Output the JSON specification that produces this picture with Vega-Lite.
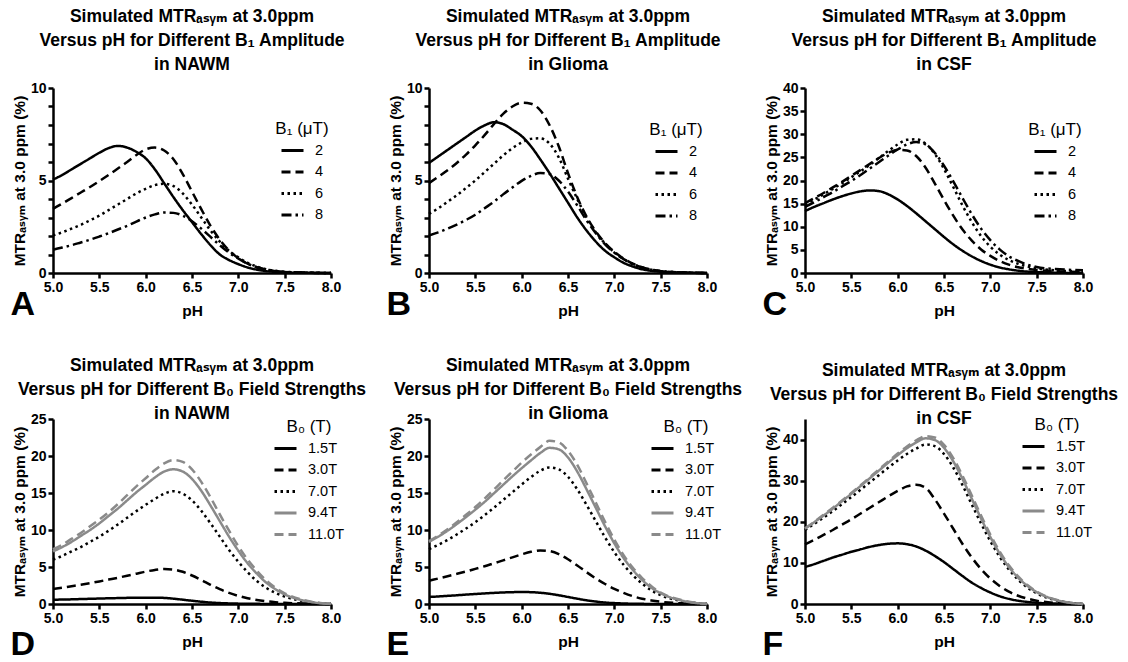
{
"$schema": "https://vega.github.io/schema/vega-lite/v6.json",
"background": "white",
"padding": {"left": 10, "top": 7, "right": 5, "bottom": 2},
"config": {
 "font": "Liberation Sans, DejaVu Sans, sans-serif",
 "view": {"stroke": null},
 "line": {"color": "black"},
 "point": {"color": "black"},
 "axis": {"domainColor": "black", "domainWidth": 2.5, "tickColor": "black", "tickWidth": 2.5, "tickSize": 5, "labelFontSize": 14, "labelFontWeight": "bold", "labelColor": "black", "labelPadding": 2, "labelFlush": false, "titleFontSize": 15.5, "titleFontWeight": "bold", "titleColor": "black", "grid": false},
 "axisY": {"titlePadding": 3},
 "axisX": {"titlePadding": 9},
 "legend": {"orient": "none", "titleFontSize": 17, "titleFontWeight": "normal", "titleColor": "black", "labelFontSize": 14.5, "labelColor": "black", "symbolType": "stroke", "symbolSize": 484, "symbolStrokeWidth": 3, "labelOffset": 10, "rowPadding": 2.5, "titlePadding": 0, "titleAnchor": "middle", "titleLimit": 300, "padding": 0},
 "title": {"fontSize": 17.5, "fontWeight": "bold", "color": "black", "anchor": "middle", "lineHeight": 24, "offset": 8}
},
"datasets": {
"A": [
{"B":"2","pH":5,"v":5.05},{"B":"2","pH":5.1,"v":5.3},{"B":"2","pH":5.2,"v":5.6},{"B":"2","pH":5.3,"v":5.9},{"B":"2","pH":5.4,"v":6.2},{"B":"2","pH":5.5,"v":6.5},{"B":"2","pH":5.6,"v":6.75},{"B":"2","pH":5.7,"v":6.87},{"B":"2","pH":5.8,"v":6.78},{"B":"2","pH":5.9,"v":6.55},{"B":"2","pH":6,"v":6.2},{"B":"2","pH":6.1,"v":5.6},{"B":"2","pH":6.2,"v":4.85},{"B":"2","pH":6.3,"v":4.1},{"B":"2","pH":6.4,"v":3.4},{"B":"2","pH":6.5,"v":2.75},{"B":"2","pH":6.6,"v":2.1},{"B":"2","pH":6.7,"v":1.5},{"B":"2","pH":6.8,"v":1.0},{"B":"2","pH":6.9,"v":0.7},{"B":"2","pH":7,"v":0.48},{"B":"2","pH":7.1,"v":0.3},{"B":"2","pH":7.2,"v":0.18},{"B":"2","pH":7.3,"v":0.1},{"B":"2","pH":7.4,"v":0.06},{"B":"2","pH":7.5,"v":0.03},{"B":"2","pH":7.75,"v":0.01},{"B":"2","pH":8,"v":0},
{"B":"4","pH":5,"v":3.47},{"B":"4","pH":5.1,"v":3.75},{"B":"4","pH":5.2,"v":4.05},{"B":"4","pH":5.3,"v":4.35},{"B":"4","pH":5.4,"v":4.65},{"B":"4","pH":5.5,"v":4.97},{"B":"4","pH":5.6,"v":5.3},{"B":"4","pH":5.7,"v":5.65},{"B":"4","pH":5.8,"v":6.0},{"B":"4","pH":5.9,"v":6.38},{"B":"4","pH":6,"v":6.68},{"B":"4","pH":6.1,"v":6.78},{"B":"4","pH":6.2,"v":6.62},{"B":"4","pH":6.3,"v":6.15},{"B":"4","pH":6.4,"v":5.35},{"B":"4","pH":6.5,"v":4.4},{"B":"4","pH":6.6,"v":3.45},{"B":"4","pH":6.7,"v":2.55},{"B":"4","pH":6.8,"v":1.8},{"B":"4","pH":6.9,"v":1.22},{"B":"4","pH":7,"v":0.8},{"B":"4","pH":7.1,"v":0.5},{"B":"4","pH":7.2,"v":0.3},{"B":"4","pH":7.3,"v":0.18},{"B":"4","pH":7.4,"v":0.1},{"B":"4","pH":7.5,"v":0.05},{"B":"4","pH":7.75,"v":0.01},{"B":"4","pH":8,"v":0},
{"B":"6","pH":5,"v":2.03},{"B":"6","pH":5.1,"v":2.2},{"B":"6","pH":5.2,"v":2.4},{"B":"6","pH":5.3,"v":2.6},{"B":"6","pH":5.4,"v":2.85},{"B":"6","pH":5.5,"v":3.1},{"B":"6","pH":5.6,"v":3.4},{"B":"6","pH":5.7,"v":3.7},{"B":"6","pH":5.8,"v":4.0},{"B":"6","pH":5.9,"v":4.3},{"B":"6","pH":6,"v":4.55},{"B":"6","pH":6.1,"v":4.75},{"B":"6","pH":6.2,"v":4.82},{"B":"6","pH":6.3,"v":4.7},{"B":"6","pH":6.4,"v":4.3},{"B":"6","pH":6.5,"v":3.7},{"B":"6","pH":6.6,"v":3.0},{"B":"6","pH":6.7,"v":2.3},{"B":"6","pH":6.8,"v":1.7},{"B":"6","pH":6.9,"v":1.2},{"B":"6","pH":7,"v":0.85},{"B":"6","pH":7.1,"v":0.55},{"B":"6","pH":7.2,"v":0.35},{"B":"6","pH":7.3,"v":0.2},{"B":"6","pH":7.4,"v":0.12},{"B":"6","pH":7.5,"v":0.06},{"B":"6","pH":7.75,"v":0.02},{"B":"6","pH":8,"v":0},
{"B":"8","pH":5,"v":1.26},{"B":"8","pH":5.1,"v":1.38},{"B":"8","pH":5.2,"v":1.5},{"B":"8","pH":5.3,"v":1.65},{"B":"8","pH":5.4,"v":1.8},{"B":"8","pH":5.5,"v":1.97},{"B":"8","pH":5.6,"v":2.15},{"B":"8","pH":5.7,"v":2.35},{"B":"8","pH":5.8,"v":2.55},{"B":"8","pH":5.9,"v":2.78},{"B":"8","pH":6,"v":3.0},{"B":"8","pH":6.1,"v":3.17},{"B":"8","pH":6.2,"v":3.27},{"B":"8","pH":6.3,"v":3.25},{"B":"8","pH":6.4,"v":3.1},{"B":"8","pH":6.5,"v":2.8},{"B":"8","pH":6.6,"v":2.4},{"B":"8","pH":6.7,"v":1.95},{"B":"8","pH":6.8,"v":1.5},{"B":"8","pH":6.9,"v":1.1},{"B":"8","pH":7,"v":0.78},{"B":"8","pH":7.1,"v":0.5},{"B":"8","pH":7.2,"v":0.32},{"B":"8","pH":7.3,"v":0.19},{"B":"8","pH":7.4,"v":0.11},{"B":"8","pH":7.5,"v":0.06},{"B":"8","pH":7.75,"v":0.02},{"B":"8","pH":8,"v":0}
],
"B": [
{"B":"2","pH":5,"v":5.95},{"B":"2","pH":5.1,"v":6.3},{"B":"2","pH":5.2,"v":6.65},{"B":"2","pH":5.3,"v":7.0},{"B":"2","pH":5.4,"v":7.35},{"B":"2","pH":5.5,"v":7.7},{"B":"2","pH":5.6,"v":7.98},{"B":"2","pH":5.7,"v":8.15},{"B":"2","pH":5.8,"v":8.05},{"B":"2","pH":5.9,"v":7.75},{"B":"2","pH":6,"v":7.4},{"B":"2","pH":6.1,"v":6.85},{"B":"2","pH":6.2,"v":6.15},{"B":"2","pH":6.3,"v":5.4},{"B":"2","pH":6.4,"v":4.6},{"B":"2","pH":6.5,"v":3.8},{"B":"2","pH":6.6,"v":3.0},{"B":"2","pH":6.7,"v":2.3},{"B":"2","pH":6.8,"v":1.7},{"B":"2","pH":6.9,"v":1.2},{"B":"2","pH":7,"v":0.85},{"B":"2","pH":7.1,"v":0.55},{"B":"2","pH":7.2,"v":0.35},{"B":"2","pH":7.3,"v":0.2},{"B":"2","pH":7.4,"v":0.12},{"B":"2","pH":7.5,"v":0.07},{"B":"2","pH":7.75,"v":0.02},{"B":"2","pH":8,"v":0},
{"B":"4","pH":5,"v":4.86},{"B":"4","pH":5.1,"v":5.2},{"B":"4","pH":5.2,"v":5.55},{"B":"4","pH":5.3,"v":5.95},{"B":"4","pH":5.4,"v":6.4},{"B":"4","pH":5.5,"v":6.9},{"B":"4","pH":5.6,"v":7.45},{"B":"4","pH":5.7,"v":8.05},{"B":"4","pH":5.8,"v":8.6},{"B":"4","pH":5.9,"v":9.0},{"B":"4","pH":6,"v":9.2},{"B":"4","pH":6.1,"v":9.15},{"B":"4","pH":6.2,"v":8.8},{"B":"4","pH":6.3,"v":8.0},{"B":"4","pH":6.4,"v":6.85},{"B":"4","pH":6.5,"v":5.4},{"B":"4","pH":6.6,"v":4.1},{"B":"4","pH":6.7,"v":3.05},{"B":"4","pH":6.8,"v":2.25},{"B":"4","pH":6.9,"v":1.62},{"B":"4","pH":7,"v":1.15},{"B":"4","pH":7.1,"v":0.78},{"B":"4","pH":7.2,"v":0.5},{"B":"4","pH":7.3,"v":0.3},{"B":"4","pH":7.4,"v":0.18},{"B":"4","pH":7.5,"v":0.1},{"B":"4","pH":7.75,"v":0.03},{"B":"4","pH":8,"v":0},
{"B":"6","pH":5,"v":3.2},{"B":"6","pH":5.1,"v":3.5},{"B":"6","pH":5.2,"v":3.85},{"B":"6","pH":5.3,"v":4.2},{"B":"6","pH":5.4,"v":4.6},{"B":"6","pH":5.5,"v":5.0},{"B":"6","pH":5.6,"v":5.45},{"B":"6","pH":5.7,"v":5.9},{"B":"6","pH":5.8,"v":6.35},{"B":"6","pH":5.9,"v":6.75},{"B":"6","pH":6,"v":7.05},{"B":"6","pH":6.1,"v":7.25},{"B":"6","pH":6.2,"v":7.28},{"B":"6","pH":6.3,"v":7.0},{"B":"6","pH":6.4,"v":6.25},{"B":"6","pH":6.5,"v":5.1},{"B":"6","pH":6.6,"v":4.0},{"B":"6","pH":6.7,"v":3.0},{"B":"6","pH":6.8,"v":2.2},{"B":"6","pH":6.9,"v":1.6},{"B":"6","pH":7,"v":1.12},{"B":"6","pH":7.1,"v":0.76},{"B":"6","pH":7.2,"v":0.48},{"B":"6","pH":7.3,"v":0.3},{"B":"6","pH":7.4,"v":0.18},{"B":"6","pH":7.5,"v":0.1},{"B":"6","pH":7.75,"v":0.03},{"B":"6","pH":8,"v":0},
{"B":"8","pH":5,"v":2.03},{"B":"8","pH":5.1,"v":2.2},{"B":"8","pH":5.2,"v":2.4},{"B":"8","pH":5.3,"v":2.62},{"B":"8","pH":5.4,"v":2.87},{"B":"8","pH":5.5,"v":3.15},{"B":"8","pH":5.6,"v":3.5},{"B":"8","pH":5.7,"v":3.85},{"B":"8","pH":5.8,"v":4.25},{"B":"8","pH":5.9,"v":4.62},{"B":"8","pH":6,"v":4.98},{"B":"8","pH":6.1,"v":5.25},{"B":"8","pH":6.2,"v":5.4},{"B":"8","pH":6.3,"v":5.35},{"B":"8","pH":6.4,"v":5.0},{"B":"8","pH":6.5,"v":4.4},{"B":"8","pH":6.6,"v":3.65},{"B":"8","pH":6.7,"v":2.85},{"B":"8","pH":6.8,"v":2.15},{"B":"8","pH":6.9,"v":1.55},{"B":"8","pH":7,"v":1.1},{"B":"8","pH":7.1,"v":0.75},{"B":"8","pH":7.2,"v":0.48},{"B":"8","pH":7.3,"v":0.3},{"B":"8","pH":7.4,"v":0.18},{"B":"8","pH":7.5,"v":0.1},{"B":"8","pH":7.75,"v":0.03},{"B":"8","pH":8,"v":0}
],
"C": [
{"B":"2","pH":5,"v":13.4},{"B":"2","pH":5.1,"v":14.3},{"B":"2","pH":5.2,"v":15.1},{"B":"2","pH":5.3,"v":15.9},{"B":"2","pH":5.4,"v":16.6},{"B":"2","pH":5.5,"v":17.2},{"B":"2","pH":5.6,"v":17.65},{"B":"2","pH":5.7,"v":17.85},{"B":"2","pH":5.8,"v":17.7},{"B":"2","pH":5.9,"v":17.0},{"B":"2","pH":6,"v":15.9},{"B":"2","pH":6.1,"v":14.5},{"B":"2","pH":6.2,"v":12.9},{"B":"2","pH":6.3,"v":11.2},{"B":"2","pH":6.4,"v":9.5},{"B":"2","pH":6.5,"v":7.8},{"B":"2","pH":6.6,"v":6.2},{"B":"2","pH":6.7,"v":4.8},{"B":"2","pH":6.8,"v":3.6},{"B":"2","pH":6.9,"v":2.6},{"B":"2","pH":7,"v":1.8},{"B":"2","pH":7.1,"v":1.2},{"B":"2","pH":7.2,"v":0.8},{"B":"2","pH":7.3,"v":0.5},{"B":"2","pH":7.4,"v":0.3},{"B":"2","pH":7.5,"v":0.2},{"B":"2","pH":7.75,"v":0.05},{"B":"2","pH":8,"v":0},
{"B":"4","pH":5,"v":15.1},{"B":"4","pH":5.1,"v":16.2},{"B":"4","pH":5.2,"v":17.3},{"B":"4","pH":5.3,"v":18.5},{"B":"4","pH":5.4,"v":19.7},{"B":"4","pH":5.5,"v":21.0},{"B":"4","pH":5.6,"v":22.3},{"B":"4","pH":5.7,"v":23.6},{"B":"4","pH":5.8,"v":24.9},{"B":"4","pH":5.9,"v":26.0},{"B":"4","pH":6,"v":26.65},{"B":"4","pH":6.1,"v":26.5},{"B":"4","pH":6.2,"v":25.3},{"B":"4","pH":6.3,"v":22.8},{"B":"4","pH":6.4,"v":19.4},{"B":"4","pH":6.5,"v":15.8},{"B":"4","pH":6.6,"v":12.4},{"B":"4","pH":6.7,"v":9.4},{"B":"4","pH":6.8,"v":7.0},{"B":"4","pH":6.9,"v":5.1},{"B":"4","pH":7,"v":3.7},{"B":"4","pH":7.1,"v":2.6},{"B":"4","pH":7.2,"v":1.8},{"B":"4","pH":7.3,"v":1.25},{"B":"4","pH":7.4,"v":0.9},{"B":"4","pH":7.5,"v":0.65},{"B":"4","pH":7.75,"v":0.35},{"B":"4","pH":8,"v":0.2},
{"B":"6","pH":5,"v":14.8},{"B":"6","pH":5.1,"v":15.9},{"B":"6","pH":5.2,"v":17.0},{"B":"6","pH":5.3,"v":18.2},{"B":"6","pH":5.4,"v":19.4},{"B":"6","pH":5.5,"v":20.7},{"B":"6","pH":5.6,"v":22.0},{"B":"6","pH":5.7,"v":23.4},{"B":"6","pH":5.8,"v":24.9},{"B":"6","pH":5.9,"v":26.4},{"B":"6","pH":6,"v":27.8},{"B":"6","pH":6.1,"v":28.8},{"B":"6","pH":6.2,"v":28.9},{"B":"6","pH":6.3,"v":28.0},{"B":"6","pH":6.4,"v":25.8},{"B":"6","pH":6.5,"v":22.5},{"B":"6","pH":6.6,"v":18.6},{"B":"6","pH":6.7,"v":14.6},{"B":"6","pH":6.8,"v":11.0},{"B":"6","pH":6.9,"v":8.0},{"B":"6","pH":7,"v":5.7},{"B":"6","pH":7.1,"v":4.0},{"B":"6","pH":7.2,"v":2.8},{"B":"6","pH":7.3,"v":2.0},{"B":"6","pH":7.4,"v":1.4},{"B":"6","pH":7.5,"v":1.0},{"B":"6","pH":7.75,"v":0.5},{"B":"6","pH":8,"v":0.3},
{"B":"8","pH":5,"v":14.3},{"B":"8","pH":5.1,"v":15.3},{"B":"8","pH":5.2,"v":16.4},{"B":"8","pH":5.3,"v":17.5},{"B":"8","pH":5.4,"v":18.7},{"B":"8","pH":5.5,"v":19.9},{"B":"8","pH":5.6,"v":21.2},{"B":"8","pH":5.7,"v":22.6},{"B":"8","pH":5.8,"v":24.0},{"B":"8","pH":5.9,"v":25.4},{"B":"8","pH":6,"v":26.7},{"B":"8","pH":6.1,"v":27.8},{"B":"8","pH":6.2,"v":28.3},{"B":"8","pH":6.3,"v":27.8},{"B":"8","pH":6.4,"v":26.0},{"B":"8","pH":6.5,"v":23.2},{"B":"8","pH":6.6,"v":19.8},{"B":"8","pH":6.7,"v":16.2},{"B":"8","pH":6.8,"v":12.7},{"B":"8","pH":6.9,"v":9.6},{"B":"8","pH":7,"v":7.1},{"B":"8","pH":7.1,"v":5.1},{"B":"8","pH":7.2,"v":3.6},{"B":"8","pH":7.3,"v":2.6},{"B":"8","pH":7.4,"v":1.8},{"B":"8","pH":7.5,"v":1.3},{"B":"8","pH":7.75,"v":0.8},{"B":"8","pH":8,"v":0.6}
],
"D": [
{"B":"1.5T","pH":5,"v":0.58},{"B":"1.5T","pH":5.1,"v":0.6},{"B":"1.5T","pH":5.2,"v":0.63},{"B":"1.5T","pH":5.3,"v":0.67},{"B":"1.5T","pH":5.4,"v":0.7},{"B":"1.5T","pH":5.5,"v":0.74},{"B":"1.5T","pH":5.6,"v":0.77},{"B":"1.5T","pH":5.7,"v":0.8},{"B":"1.5T","pH":5.8,"v":0.83},{"B":"1.5T","pH":5.9,"v":0.85},{"B":"1.5T","pH":6,"v":0.86},{"B":"1.5T","pH":6.1,"v":0.86},{"B":"1.5T","pH":6.2,"v":0.82},{"B":"1.5T","pH":6.3,"v":0.72},{"B":"1.5T","pH":6.4,"v":0.58},{"B":"1.5T","pH":6.5,"v":0.44},{"B":"1.5T","pH":6.6,"v":0.31},{"B":"1.5T","pH":6.7,"v":0.2},{"B":"1.5T","pH":6.8,"v":0.13},{"B":"1.5T","pH":6.9,"v":0.08},{"B":"1.5T","pH":7,"v":0.05},{"B":"1.5T","pH":7.1,"v":0.03},{"B":"1.5T","pH":7.2,"v":0.02},{"B":"1.5T","pH":7.3,"v":0.01},{"B":"1.5T","pH":7.4,"v":0},{"B":"1.5T","pH":7.5,"v":0},{"B":"1.5T","pH":7.75,"v":0},{"B":"1.5T","pH":8,"v":0},
{"B":"3.0T","pH":5,"v":2.03},{"B":"3.0T","pH":5.1,"v":2.2},{"B":"3.0T","pH":5.2,"v":2.4},{"B":"3.0T","pH":5.3,"v":2.6},{"B":"3.0T","pH":5.4,"v":2.82},{"B":"3.0T","pH":5.5,"v":3.05},{"B":"3.0T","pH":5.6,"v":3.3},{"B":"3.0T","pH":5.7,"v":3.55},{"B":"3.0T","pH":5.8,"v":3.82},{"B":"3.0T","pH":5.9,"v":4.1},{"B":"3.0T","pH":6,"v":4.38},{"B":"3.0T","pH":6.1,"v":4.6},{"B":"3.0T","pH":6.2,"v":4.72},{"B":"3.0T","pH":6.3,"v":4.65},{"B":"3.0T","pH":6.4,"v":4.35},{"B":"3.0T","pH":6.5,"v":3.85},{"B":"3.0T","pH":6.6,"v":3.25},{"B":"3.0T","pH":6.7,"v":2.6},{"B":"3.0T","pH":6.8,"v":2.0},{"B":"3.0T","pH":6.9,"v":1.5},{"B":"3.0T","pH":7,"v":1.1},{"B":"3.0T","pH":7.1,"v":0.78},{"B":"3.0T","pH":7.2,"v":0.54},{"B":"3.0T","pH":7.3,"v":0.37},{"B":"3.0T","pH":7.4,"v":0.25},{"B":"3.0T","pH":7.5,"v":0.16},{"B":"3.0T","pH":7.75,"v":0.05},{"B":"3.0T","pH":8,"v":0},
{"B":"7.0T","pH":5,"v":6.0},{"B":"7.0T","pH":5.1,"v":6.5},{"B":"7.0T","pH":5.2,"v":7.1},{"B":"7.0T","pH":5.3,"v":7.7},{"B":"7.0T","pH":5.4,"v":8.4},{"B":"7.0T","pH":5.5,"v":9.1},{"B":"7.0T","pH":5.6,"v":9.9},{"B":"7.0T","pH":5.7,"v":10.75},{"B":"7.0T","pH":5.8,"v":11.65},{"B":"7.0T","pH":5.9,"v":12.55},{"B":"7.0T","pH":6,"v":13.4},{"B":"7.0T","pH":6.1,"v":14.2},{"B":"7.0T","pH":6.2,"v":14.9},{"B":"7.0T","pH":6.3,"v":15.25},{"B":"7.0T","pH":6.4,"v":14.9},{"B":"7.0T","pH":6.5,"v":14.0},{"B":"7.0T","pH":6.6,"v":12.6},{"B":"7.0T","pH":6.7,"v":10.9},{"B":"7.0T","pH":6.8,"v":9.1},{"B":"7.0T","pH":6.9,"v":7.3},{"B":"7.0T","pH":7,"v":5.7},{"B":"7.0T","pH":7.1,"v":4.3},{"B":"7.0T","pH":7.2,"v":3.1},{"B":"7.0T","pH":7.3,"v":2.2},{"B":"7.0T","pH":7.4,"v":1.5},{"B":"7.0T","pH":7.5,"v":1.0},{"B":"7.0T","pH":7.75,"v":0.3},{"B":"7.0T","pH":8,"v":0},
{"B":"9.4T","pH":5,"v":7.1},{"B":"9.4T","pH":5.1,"v":7.7},{"B":"9.4T","pH":5.2,"v":8.4},{"B":"9.4T","pH":5.3,"v":9.2},{"B":"9.4T","pH":5.4,"v":10.0},{"B":"9.4T","pH":5.5,"v":10.9},{"B":"9.4T","pH":5.6,"v":11.9},{"B":"9.4T","pH":5.7,"v":12.9},{"B":"9.4T","pH":5.8,"v":14.0},{"B":"9.4T","pH":5.9,"v":15.1},{"B":"9.4T","pH":6,"v":16.1},{"B":"9.4T","pH":6.1,"v":17.1},{"B":"9.4T","pH":6.2,"v":17.9},{"B":"9.4T","pH":6.3,"v":18.2},{"B":"9.4T","pH":6.4,"v":17.9},{"B":"9.4T","pH":6.5,"v":16.9},{"B":"9.4T","pH":6.6,"v":15.3},{"B":"9.4T","pH":6.7,"v":13.3},{"B":"9.4T","pH":6.8,"v":11.2},{"B":"9.4T","pH":6.9,"v":9.1},{"B":"9.4T","pH":7,"v":7.2},{"B":"9.4T","pH":7.1,"v":5.5},{"B":"9.4T","pH":7.2,"v":4.1},{"B":"9.4T","pH":7.3,"v":2.9},{"B":"9.4T","pH":7.4,"v":2.0},{"B":"9.4T","pH":7.5,"v":1.3},{"B":"9.4T","pH":7.75,"v":0.35},{"B":"9.4T","pH":8,"v":0},
{"B":"11.0T","pH":5,"v":7.4},{"B":"11.0T","pH":5.1,"v":8.0},{"B":"11.0T","pH":5.2,"v":8.8},{"B":"11.0T","pH":5.3,"v":9.6},{"B":"11.0T","pH":5.4,"v":10.5},{"B":"11.0T","pH":5.5,"v":11.4},{"B":"11.0T","pH":5.6,"v":12.4},{"B":"11.0T","pH":5.7,"v":13.5},{"B":"11.0T","pH":5.8,"v":14.7},{"B":"11.0T","pH":5.9,"v":15.9},{"B":"11.0T","pH":6,"v":17.0},{"B":"11.0T","pH":6.1,"v":18.1},{"B":"11.0T","pH":6.2,"v":19.0},{"B":"11.0T","pH":6.3,"v":19.45},{"B":"11.0T","pH":6.4,"v":19.2},{"B":"11.0T","pH":6.5,"v":18.2},{"B":"11.0T","pH":6.6,"v":16.5},{"B":"11.0T","pH":6.7,"v":14.4},{"B":"11.0T","pH":6.8,"v":12.1},{"B":"11.0T","pH":6.9,"v":9.9},{"B":"11.0T","pH":7,"v":7.8},{"B":"11.0T","pH":7.1,"v":6.0},{"B":"11.0T","pH":7.2,"v":4.5},{"B":"11.0T","pH":7.3,"v":3.2},{"B":"11.0T","pH":7.4,"v":2.2},{"B":"11.0T","pH":7.5,"v":1.45},{"B":"11.0T","pH":7.75,"v":0.4},{"B":"11.0T","pH":8,"v":0}
],
"E": [
{"B":"1.5T","pH":5,"v":0.95},{"B":"1.5T","pH":5.1,"v":1.02},{"B":"1.5T","pH":5.2,"v":1.1},{"B":"1.5T","pH":5.3,"v":1.18},{"B":"1.5T","pH":5.4,"v":1.27},{"B":"1.5T","pH":5.5,"v":1.35},{"B":"1.5T","pH":5.6,"v":1.43},{"B":"1.5T","pH":5.7,"v":1.5},{"B":"1.5T","pH":5.8,"v":1.56},{"B":"1.5T","pH":5.9,"v":1.6},{"B":"1.5T","pH":6,"v":1.62},{"B":"1.5T","pH":6.1,"v":1.6},{"B":"1.5T","pH":6.2,"v":1.52},{"B":"1.5T","pH":6.3,"v":1.38},{"B":"1.5T","pH":6.4,"v":1.18},{"B":"1.5T","pH":6.5,"v":0.95},{"B":"1.5T","pH":6.6,"v":0.72},{"B":"1.5T","pH":6.7,"v":0.5},{"B":"1.5T","pH":6.8,"v":0.33},{"B":"1.5T","pH":6.9,"v":0.2},{"B":"1.5T","pH":7,"v":0.12},{"B":"1.5T","pH":7.1,"v":0.07},{"B":"1.5T","pH":7.2,"v":0.04},{"B":"1.5T","pH":7.3,"v":0.02},{"B":"1.5T","pH":7.4,"v":0.01},{"B":"1.5T","pH":7.5,"v":0},{"B":"1.5T","pH":7.75,"v":0},{"B":"1.5T","pH":8,"v":0},
{"B":"3.0T","pH":5,"v":3.15},{"B":"3.0T","pH":5.1,"v":3.45},{"B":"3.0T","pH":5.2,"v":3.75},{"B":"3.0T","pH":5.3,"v":4.07},{"B":"3.0T","pH":5.4,"v":4.4},{"B":"3.0T","pH":5.5,"v":4.75},{"B":"3.0T","pH":5.6,"v":5.1},{"B":"3.0T","pH":5.7,"v":5.5},{"B":"3.0T","pH":5.8,"v":5.9},{"B":"3.0T","pH":5.9,"v":6.3},{"B":"3.0T","pH":6,"v":6.7},{"B":"3.0T","pH":6.1,"v":7.05},{"B":"3.0T","pH":6.2,"v":7.24},{"B":"3.0T","pH":6.3,"v":7.15},{"B":"3.0T","pH":6.4,"v":6.75},{"B":"3.0T","pH":6.5,"v":6.05},{"B":"3.0T","pH":6.6,"v":5.2},{"B":"3.0T","pH":6.7,"v":4.3},{"B":"3.0T","pH":6.8,"v":3.45},{"B":"3.0T","pH":6.9,"v":2.7},{"B":"3.0T","pH":7,"v":2.05},{"B":"3.0T","pH":7.1,"v":1.5},{"B":"3.0T","pH":7.2,"v":1.05},{"B":"3.0T","pH":7.3,"v":0.72},{"B":"3.0T","pH":7.4,"v":0.48},{"B":"3.0T","pH":7.5,"v":0.3},{"B":"3.0T","pH":7.75,"v":0.08},{"B":"3.0T","pH":8,"v":0},
{"B":"7.0T","pH":5,"v":7.4},{"B":"7.0T","pH":5.1,"v":8.0},{"B":"7.0T","pH":5.2,"v":8.65},{"B":"7.0T","pH":5.3,"v":9.4},{"B":"7.0T","pH":5.4,"v":10.2},{"B":"7.0T","pH":5.5,"v":11.05},{"B":"7.0T","pH":5.6,"v":12.0},{"B":"7.0T","pH":5.7,"v":13.0},{"B":"7.0T","pH":5.8,"v":14.05},{"B":"7.0T","pH":5.9,"v":15.1},{"B":"7.0T","pH":6,"v":16.15},{"B":"7.0T","pH":6.1,"v":17.15},{"B":"7.0T","pH":6.2,"v":18.0},{"B":"7.0T","pH":6.3,"v":18.45},{"B":"7.0T","pH":6.4,"v":18.2},{"B":"7.0T","pH":6.5,"v":17.2},{"B":"7.0T","pH":6.6,"v":15.5},{"B":"7.0T","pH":6.7,"v":13.4},{"B":"7.0T","pH":6.8,"v":11.2},{"B":"7.0T","pH":6.9,"v":9.0},{"B":"7.0T","pH":7,"v":7.0},{"B":"7.0T","pH":7.1,"v":5.3},{"B":"7.0T","pH":7.2,"v":3.9},{"B":"7.0T","pH":7.3,"v":2.75},{"B":"7.0T","pH":7.4,"v":1.85},{"B":"7.0T","pH":7.5,"v":1.2},{"B":"7.0T","pH":7.75,"v":0.35},{"B":"7.0T","pH":8,"v":0},
{"B":"9.4T","pH":5,"v":8.4},{"B":"9.4T","pH":5.1,"v":9.1},{"B":"9.4T","pH":5.2,"v":9.9},{"B":"9.4T","pH":5.3,"v":10.8},{"B":"9.4T","pH":5.4,"v":11.75},{"B":"9.4T","pH":5.5,"v":12.75},{"B":"9.4T","pH":5.6,"v":13.8},{"B":"9.4T","pH":5.7,"v":14.95},{"B":"9.4T","pH":5.8,"v":16.1},{"B":"9.4T","pH":5.9,"v":17.25},{"B":"9.4T","pH":6,"v":18.35},{"B":"9.4T","pH":6.1,"v":19.4},{"B":"9.4T","pH":6.2,"v":20.4},{"B":"9.4T","pH":6.3,"v":21.1},{"B":"9.4T","pH":6.4,"v":20.9},{"B":"9.4T","pH":6.5,"v":19.8},{"B":"9.4T","pH":6.6,"v":17.9},{"B":"9.4T","pH":6.7,"v":15.5},{"B":"9.4T","pH":6.8,"v":13.0},{"B":"9.4T","pH":6.9,"v":10.5},{"B":"9.4T","pH":7,"v":8.2},{"B":"9.4T","pH":7.1,"v":6.2},{"B":"9.4T","pH":7.2,"v":4.6},{"B":"9.4T","pH":7.3,"v":3.25},{"B":"9.4T","pH":7.4,"v":2.2},{"B":"9.4T","pH":7.5,"v":1.45},{"B":"9.4T","pH":7.75,"v":0.4},{"B":"9.4T","pH":8,"v":0},
{"B":"11.0T","pH":5,"v":8.5},{"B":"11.0T","pH":5.1,"v":9.25},{"B":"11.0T","pH":5.2,"v":10.1},{"B":"11.0T","pH":5.3,"v":11.05},{"B":"11.0T","pH":5.4,"v":12.05},{"B":"11.0T","pH":5.5,"v":13.1},{"B":"11.0T","pH":5.6,"v":14.25},{"B":"11.0T","pH":5.7,"v":15.45},{"B":"11.0T","pH":5.8,"v":16.7},{"B":"11.0T","pH":5.9,"v":17.9},{"B":"11.0T","pH":6,"v":19.1},{"B":"11.0T","pH":6.1,"v":20.2},{"B":"11.0T","pH":6.2,"v":21.2},{"B":"11.0T","pH":6.3,"v":22.05},{"B":"11.0T","pH":6.4,"v":21.85},{"B":"11.0T","pH":6.5,"v":20.7},{"B":"11.0T","pH":6.6,"v":18.8},{"B":"11.0T","pH":6.7,"v":16.3},{"B":"11.0T","pH":6.8,"v":13.7},{"B":"11.0T","pH":6.9,"v":11.1},{"B":"11.0T","pH":7,"v":8.7},{"B":"11.0T","pH":7.1,"v":6.6},{"B":"11.0T","pH":7.2,"v":4.9},{"B":"11.0T","pH":7.3,"v":3.5},{"B":"11.0T","pH":7.4,"v":2.4},{"B":"11.0T","pH":7.5,"v":1.55},{"B":"11.0T","pH":7.75,"v":0.45},{"B":"11.0T","pH":8,"v":0}
],
"F": [
{"B":"1.5T","pH":5,"v":9.0},{"B":"1.5T","pH":5.1,"v":9.7},{"B":"1.5T","pH":5.2,"v":10.5},{"B":"1.5T","pH":5.3,"v":11.3},{"B":"1.5T","pH":5.4,"v":12.0},{"B":"1.5T","pH":5.5,"v":12.7},{"B":"1.5T","pH":5.6,"v":13.3},{"B":"1.5T","pH":5.7,"v":13.9},{"B":"1.5T","pH":5.8,"v":14.35},{"B":"1.5T","pH":5.9,"v":14.65},{"B":"1.5T","pH":6,"v":14.75},{"B":"1.5T","pH":6.1,"v":14.55},{"B":"1.5T","pH":6.2,"v":14.0},{"B":"1.5T","pH":6.3,"v":13.0},{"B":"1.5T","pH":6.4,"v":11.7},{"B":"1.5T","pH":6.5,"v":10.2},{"B":"1.5T","pH":6.6,"v":8.5},{"B":"1.5T","pH":6.7,"v":6.8},{"B":"1.5T","pH":6.8,"v":5.2},{"B":"1.5T","pH":6.9,"v":3.9},{"B":"1.5T","pH":7,"v":2.8},{"B":"1.5T","pH":7.1,"v":1.9},{"B":"1.5T","pH":7.2,"v":1.25},{"B":"1.5T","pH":7.3,"v":0.8},{"B":"1.5T","pH":7.4,"v":0.5},{"B":"1.5T","pH":7.5,"v":0.3},{"B":"1.5T","pH":7.75,"v":0.08},{"B":"1.5T","pH":8,"v":0},
{"B":"3.0T","pH":5,"v":14.5},{"B":"3.0T","pH":5.1,"v":15.6},{"B":"3.0T","pH":5.2,"v":16.8},{"B":"3.0T","pH":5.3,"v":18.0},{"B":"3.0T","pH":5.4,"v":19.3},{"B":"3.0T","pH":5.5,"v":20.6},{"B":"3.0T","pH":5.6,"v":22.0},{"B":"3.0T","pH":5.7,"v":23.4},{"B":"3.0T","pH":5.8,"v":24.8},{"B":"3.0T","pH":5.9,"v":26.2},{"B":"3.0T","pH":6,"v":27.5},{"B":"3.0T","pH":6.1,"v":28.6},{"B":"3.0T","pH":6.2,"v":29.0},{"B":"3.0T","pH":6.3,"v":28.3},{"B":"3.0T","pH":6.4,"v":25.5},{"B":"3.0T","pH":6.5,"v":22.0},{"B":"3.0T","pH":6.6,"v":18.3},{"B":"3.0T","pH":6.7,"v":14.6},{"B":"3.0T","pH":6.8,"v":11.3},{"B":"3.0T","pH":6.9,"v":8.5},{"B":"3.0T","pH":7,"v":6.2},{"B":"3.0T","pH":7.1,"v":4.4},{"B":"3.0T","pH":7.2,"v":3.0},{"B":"3.0T","pH":7.3,"v":2.0},{"B":"3.0T","pH":7.4,"v":1.3},{"B":"3.0T","pH":7.5,"v":0.8},{"B":"3.0T","pH":7.75,"v":0.2},{"B":"3.0T","pH":8,"v":0},
{"B":"7.0T","pH":5,"v":18.0},{"B":"7.0T","pH":5.1,"v":19.5},{"B":"7.0T","pH":5.2,"v":21.0},{"B":"7.0T","pH":5.3,"v":22.6},{"B":"7.0T","pH":5.4,"v":24.3},{"B":"7.0T","pH":5.5,"v":26.0},{"B":"7.0T","pH":5.6,"v":27.8},{"B":"7.0T","pH":5.7,"v":29.6},{"B":"7.0T","pH":5.8,"v":31.4},{"B":"7.0T","pH":5.9,"v":33.2},{"B":"7.0T","pH":6,"v":34.9},{"B":"7.0T","pH":6.1,"v":36.5},{"B":"7.0T","pH":6.2,"v":37.8},{"B":"7.0T","pH":6.3,"v":38.8},{"B":"7.0T","pH":6.4,"v":38.4},{"B":"7.0T","pH":6.5,"v":36.5},{"B":"7.0T","pH":6.6,"v":33.2},{"B":"7.0T","pH":6.7,"v":28.9},{"B":"7.0T","pH":6.8,"v":24.2},{"B":"7.0T","pH":6.9,"v":19.6},{"B":"7.0T","pH":7,"v":15.3},{"B":"7.0T","pH":7.1,"v":11.5},{"B":"7.0T","pH":7.2,"v":8.4},{"B":"7.0T","pH":7.3,"v":5.9},{"B":"7.0T","pH":7.4,"v":4.0},{"B":"7.0T","pH":7.5,"v":2.6},{"B":"7.0T","pH":7.75,"v":0.7},{"B":"7.0T","pH":8,"v":0},
{"B":"9.4T","pH":5,"v":18.3},{"B":"9.4T","pH":5.1,"v":19.9},{"B":"9.4T","pH":5.2,"v":21.5},{"B":"9.4T","pH":5.3,"v":23.2},{"B":"9.4T","pH":5.4,"v":25.0},{"B":"9.4T","pH":5.5,"v":26.8},{"B":"9.4T","pH":5.6,"v":28.7},{"B":"9.4T","pH":5.7,"v":30.6},{"B":"9.4T","pH":5.8,"v":32.5},{"B":"9.4T","pH":5.9,"v":34.4},{"B":"9.4T","pH":6,"v":36.2},{"B":"9.4T","pH":6.1,"v":37.9},{"B":"9.4T","pH":6.2,"v":39.3},{"B":"9.4T","pH":6.3,"v":40.3},{"B":"9.4T","pH":6.4,"v":39.9},{"B":"9.4T","pH":6.5,"v":38.0},{"B":"9.4T","pH":6.6,"v":34.7},{"B":"9.4T","pH":6.7,"v":30.4},{"B":"9.4T","pH":6.8,"v":25.6},{"B":"9.4T","pH":6.9,"v":20.8},{"B":"9.4T","pH":7,"v":16.3},{"B":"9.4T","pH":7.1,"v":12.3},{"B":"9.4T","pH":7.2,"v":9.0},{"B":"9.4T","pH":7.3,"v":6.4},{"B":"9.4T","pH":7.4,"v":4.4},{"B":"9.4T","pH":7.5,"v":2.9},{"B":"9.4T","pH":7.75,"v":0.75},{"B":"9.4T","pH":8,"v":0},
{"B":"11.0T","pH":5,"v":18.4},{"B":"11.0T","pH":5.1,"v":20.0},{"B":"11.0T","pH":5.2,"v":21.7},{"B":"11.0T","pH":5.3,"v":23.4},{"B":"11.0T","pH":5.4,"v":25.2},{"B":"11.0T","pH":5.5,"v":27.0},{"B":"11.0T","pH":5.6,"v":28.9},{"B":"11.0T","pH":5.7,"v":30.8},{"B":"11.0T","pH":5.8,"v":32.8},{"B":"11.0T","pH":5.9,"v":34.7},{"B":"11.0T","pH":6,"v":36.6},{"B":"11.0T","pH":6.1,"v":38.3},{"B":"11.0T","pH":6.2,"v":39.8},{"B":"11.0T","pH":6.3,"v":40.8},{"B":"11.0T","pH":6.4,"v":40.5},{"B":"11.0T","pH":6.5,"v":38.7},{"B":"11.0T","pH":6.6,"v":35.5},{"B":"11.0T","pH":6.7,"v":31.2},{"B":"11.0T","pH":6.8,"v":26.4},{"B":"11.0T","pH":6.9,"v":21.5},{"B":"11.0T","pH":7,"v":16.9},{"B":"11.0T","pH":7.1,"v":12.8},{"B":"11.0T","pH":7.2,"v":9.4},{"B":"11.0T","pH":7.3,"v":6.7},{"B":"11.0T","pH":7.4,"v":4.6},{"B":"11.0T","pH":7.5,"v":3.0},{"B":"11.0T","pH":7.75,"v":0.8},{"B":"11.0T","pH":8,"v":0}
]
},
"columns": 3,
"spacing": {"row": 146, "column": 98},
"bounds": "flush",
"resolve": {"scale": {"x": "independent", "y": "independent", "strokeDash": "independent", "color": "independent"}, "legend": {"strokeDash": "independent", "color": "independent"}, "axis": {"x": "independent", "y": "independent"}},
"concat": [
{"width": 278, "height": 185, "data": {"name": "A"},
 "title": {"text": ["Simulated MTRₐₛᵧₘ at 3.0ppm", "Versus pH for Different B₁ Amplitude", "in NAWM"]},
 "resolve": {"axis": {"x": "independent"}},
 "layer": [
  {"mark": {"type": "line", "strokeWidth": 2.5, "interpolate": "monotone"},
   "encoding": {
    "x": {"field": "pH", "type": "quantitative", "scale": {"domain": [5, 8], "nice": false}, "axis": {"orient": "bottom", "title": "pH", "values": [5, 5.5, 6, 6.5, 7, 7.5, 8], "format": ".1f"}},
    "y": {"field": "v", "type": "quantitative", "scale": {"domain": [0, 10], "nice": false}, "axis": {"title": "MTRₐₛᵧₘ at 3.0 ppm (%)", "values": [0,1,2,3,4,5,6,7,8,9,10], "labelExpr": "datum.value % 5 === 0 ? datum.label : ''"}},
    "strokeDash": {"field": "B", "type": "nominal", "scale": {"domain": ["2","4","6","8"], "range": [[1,0],[9,5],[2.5,3.5],[10,4,2.5,4]]}, "legend": {"title": "B₁ (μT)", "legendX": 222, "legendY": 33}}
   }},
  {"mark": {"type": "point", "opacity": 0},
   "encoding": {"x": {"field": "pH", "type": "quantitative", "scale": {"domain": [5, 8], "nice": false}, "axis": {"orient": "bottom", "title": "A", "domain": false, "ticks": false, "labels": false, "titleFontSize": 34, "titleX": -43, "titleY": 41, "titleAlign": "left", "titleBaseline": "alphabetic"}}}}
 ]},
{"width": 278, "height": 185, "data": {"name": "B"},
 "title": {"text": ["Simulated MTRₐₛᵧₘ at 3.0ppm", "Versus pH for Different B₁ Amplitude", "in Glioma"]},
 "resolve": {"axis": {"x": "independent"}},
 "layer": [
  {"mark": {"type": "line", "strokeWidth": 2.5, "interpolate": "monotone"},
   "encoding": {
    "x": {"field": "pH", "type": "quantitative", "scale": {"domain": [5, 8], "nice": false}, "axis": {"orient": "bottom", "title": "pH", "values": [5, 5.5, 6, 6.5, 7, 7.5, 8], "format": ".1f"}},
    "y": {"field": "v", "type": "quantitative", "scale": {"domain": [0, 10], "nice": false}, "axis": {"title": "MTRₐₛᵧₘ at 3.0 ppm (%)", "values": [0,1,2,3,4,5,6,7,8,9,10], "labelExpr": "datum.value % 5 === 0 ? datum.label : ''"}},
    "strokeDash": {"field": "B", "type": "nominal", "scale": {"domain": ["2","4","6","8"], "range": [[1,0],[9,5],[2.5,3.5],[10,4,2.5,4]]}, "legend": {"title": "B₁ (μT)", "legendX": 220, "legendY": 34}}
   }},
  {"mark": {"type": "point", "opacity": 0},
   "encoding": {"x": {"field": "pH", "type": "quantitative", "scale": {"domain": [5, 8], "nice": false}, "axis": {"orient": "bottom", "title": "B", "domain": false, "ticks": false, "labels": false, "titleFontSize": 34, "titleX": -43, "titleY": 41, "titleAlign": "left", "titleBaseline": "alphabetic"}}}}
 ]},
{"width": 278, "height": 185, "data": {"name": "C"},
 "title": {"text": ["Simulated MTRₐₛᵧₘ at 3.0ppm", "Versus pH for Different B₁ Amplitude", "in CSF"]},
 "resolve": {"axis": {"x": "independent"}},
 "layer": [
  {"mark": {"type": "line", "strokeWidth": 2.5, "interpolate": "monotone"},
   "encoding": {
    "x": {"field": "pH", "type": "quantitative", "scale": {"domain": [5, 8], "nice": false}, "axis": {"orient": "bottom", "title": "pH", "values": [5, 5.5, 6, 6.5, 7, 7.5, 8], "format": ".1f"}},
    "y": {"field": "v", "type": "quantitative", "scale": {"domain": [0, 40], "nice": false}, "axis": {"title": "MTRₐₛᵧₘ at 3.0 ppm (%)", "values": [0,5,10,15,20,25,30,35,40]}},
    "strokeDash": {"field": "B", "type": "nominal", "scale": {"domain": ["2","4","6","8"], "range": [[1,0],[9,5],[2.5,3.5],[10,4,2.5,4]]}, "legend": {"title": "B₁ (μT)", "legendX": 223, "legendY": 34}}
   }},
  {"mark": {"type": "point", "opacity": 0},
   "encoding": {"x": {"field": "pH", "type": "quantitative", "scale": {"domain": [5, 8], "nice": false}, "axis": {"orient": "bottom", "title": "C", "domain": false, "ticks": false, "labels": false, "titleFontSize": 34, "titleX": -43, "titleY": 41, "titleAlign": "left", "titleBaseline": "alphabetic"}}}}
 ]},
{"width": 278, "height": 185, "data": {"name": "D"},
 "title": {"text": ["Simulated MTRₐₛᵧₘ at 3.0ppm", "Versus pH for Different B₀ Field Strengths", "in NAWM"], "offset": -10},
 "resolve": {"axis": {"x": "independent"}},
 "layer": [
  {"mark": {"type": "line", "strokeWidth": 2.5, "interpolate": "monotone"},
   "encoding": {
    "x": {"field": "pH", "type": "quantitative", "scale": {"domain": [5, 8], "nice": false}, "axis": {"orient": "bottom", "title": "pH", "values": [5, 5.5, 6, 6.5, 7, 7.5, 8], "format": ".1f"}},
    "y": {"field": "v", "type": "quantitative", "scale": {"domain": [0, 25], "nice": false}, "axis": {"title": "MTRₐₛᵧₘ at 3.0 ppm (%)", "values": [0,5,10,15,20,25]}},
    "color": {"field": "B", "type": "nominal", "scale": {"domain": ["1.5T","3.0T","7.0T","9.4T","11.0T"], "range": ["black","black","black","#8a8a8a","#8a8a8a"]}, "legend": {"title": "B₀ (T)", "legendX": 220, "legendY": 0}},
    "strokeDash": {"field": "B", "type": "nominal", "scale": {"domain": ["1.5T","3.0T","7.0T","9.4T","11.0T"], "range": [[1,0],[9,5],[2.5,3.5],[1,0],[9,5]]}, "legend": {"title": "B₀ (T)", "legendX": 220, "legendY": 0}}
   }},
  {"mark": {"type": "point", "opacity": 0},
   "encoding": {"x": {"field": "pH", "type": "quantitative", "scale": {"domain": [5, 8], "nice": false}, "axis": {"orient": "bottom", "title": "D", "domain": false, "ticks": false, "labels": false, "titleFontSize": 34, "titleX": -43, "titleY": 50, "titleAlign": "left", "titleBaseline": "alphabetic"}}}}
 ]},
{"width": 278, "height": 185, "data": {"name": "E"},
 "title": {"text": ["Simulated MTRₐₛᵧₘ at 3.0ppm", "Versus pH for Different B₀ Field Strengths", "in Glioma"], "offset": -10},
 "resolve": {"axis": {"x": "independent"}},
 "layer": [
  {"mark": {"type": "line", "strokeWidth": 2.5, "interpolate": "monotone"},
   "encoding": {
    "x": {"field": "pH", "type": "quantitative", "scale": {"domain": [5, 8], "nice": false}, "axis": {"orient": "bottom", "title": "pH", "values": [5, 5.5, 6, 6.5, 7, 7.5, 8], "format": ".1f"}},
    "y": {"field": "v", "type": "quantitative", "scale": {"domain": [0, 25], "nice": false}, "axis": {"title": "MTRₐₛᵧₘ at 3.0 ppm (%)", "values": [0,5,10,15,20,25]}},
    "color": {"field": "B", "type": "nominal", "scale": {"domain": ["1.5T","3.0T","7.0T","9.4T","11.0T"], "range": ["black","black","black","#8a8a8a","#8a8a8a"]}, "legend": {"title": "B₀ (T)", "legendX": 221, "legendY": 0}},
    "strokeDash": {"field": "B", "type": "nominal", "scale": {"domain": ["1.5T","3.0T","7.0T","9.4T","11.0T"], "range": [[1,0],[9,5],[2.5,3.5],[1,0],[9,5]]}, "legend": {"title": "B₀ (T)", "legendX": 221, "legendY": 0}}
   }},
  {"mark": {"type": "point", "opacity": 0},
   "encoding": {"x": {"field": "pH", "type": "quantitative", "scale": {"domain": [5, 8], "nice": false}, "axis": {"orient": "bottom", "title": "E", "domain": false, "ticks": false, "labels": false, "titleFontSize": 34, "titleX": -43, "titleY": 50, "titleAlign": "left", "titleBaseline": "alphabetic"}}}}
 ]},
{"width": 278, "height": 185, "data": {"name": "F"},
 "title": {"text": ["Simulated MTRₐₛᵧₘ at 3.0ppm", "Versus pH for Different B₀ Field Strengths", "in CSF"], "offset": -10},
 "resolve": {"axis": {"x": "independent"}},
 "layer": [
  {"mark": {"type": "line", "strokeWidth": 2.5, "interpolate": "monotone"},
   "encoding": {
    "x": {"field": "pH", "type": "quantitative", "scale": {"domain": [5, 8], "nice": false}, "axis": {"orient": "bottom", "title": "pH", "values": [5, 5.5, 6, 6.5, 7, 7.5, 8], "format": ".1f"}},
    "y": {"field": "v", "type": "quantitative", "scale": {"domain": [0, 45], "nice": false}, "axis": {"title": "MTRₐₛᵧₘ at 3.0 ppm (%)", "values": [0,10,20,30,40]}},
    "color": {"field": "B", "type": "nominal", "scale": {"domain": ["1.5T","3.0T","7.0T","9.4T","11.0T"], "range": ["black","black","black","#8a8a8a","#8a8a8a"]}, "legend": {"title": "B₀ (T)", "legendX": 216, "legendY": -2}},
    "strokeDash": {"field": "B", "type": "nominal", "scale": {"domain": ["1.5T","3.0T","7.0T","9.4T","11.0T"], "range": [[1,0],[9,5],[2.5,3.5],[1,0],[9,5]]}, "legend": {"title": "B₀ (T)", "legendX": 216, "legendY": -2}}
   }},
  {"mark": {"type": "point", "opacity": 0},
   "encoding": {"x": {"field": "pH", "type": "quantitative", "scale": {"domain": [5, 8], "nice": false}, "axis": {"orient": "bottom", "title": "F", "domain": false, "ticks": false, "labels": false, "titleFontSize": 34, "titleX": -43, "titleY": 50, "titleAlign": "left", "titleBaseline": "alphabetic"}}}}
 ]}
]
}
